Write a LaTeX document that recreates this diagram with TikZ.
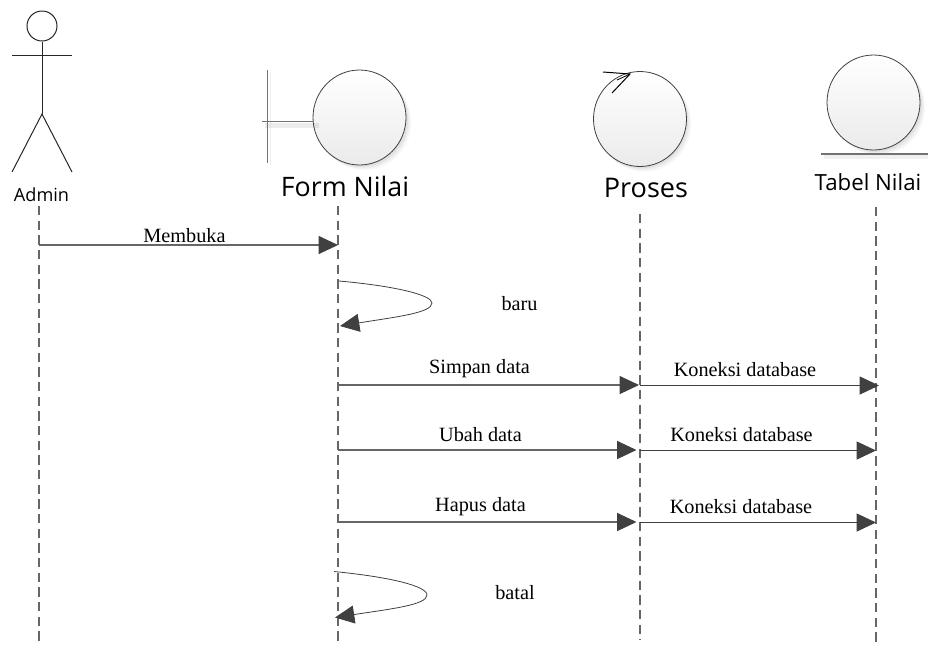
\documentclass[tikz,border=0pt]{standalone}
\usepackage{fontspec}
\setmainfont{Liberation Serif}
\newfontfamily\uisans{Open Sans}
\usetikzlibrary{arrows.meta,shapes.geometric}
\definecolor{tipc}{HTML}{404040}
\definecolor{linec}{HTML}{666666}
\tikzset{
  lifeline/.style={draw=linec,line width=0.9pt,dash pattern=on 6.9pt off 4.1pt},
  msg/.style={draw=linec,line width=0.85pt,-{Triangle[length=14.5pt,width=13.5pt,color=tipc]}},
  loopmsg/.style={draw=tipc,line width=0.6pt,-{Triangle[length=14.5pt,width=13.5pt,color=tipc]}},
  lbl/.style={inner sep=0pt,font=\fontsize{15.2}{18}\selectfont},
  robust/.style={ellipse,draw=black!75,line width=0.6pt,top color=white,bottom color=black!8,
    minimum width=69.75pt,minimum height=71.25pt,inner sep=0pt},
  stick/.style={draw=black!85,line width=0.75pt},
  bar/.style={draw=black!55,line width=0.75pt},
  capt/.style={inner sep=0pt,font=\uisans\fontsize{#1}{#1}\selectfont},
}
\begin{document}
\begin{tikzpicture}[x=0.75pt,y=-0.75pt]
\useasboundingbox (0,0) rectangle (928,644);
% lifeline ends
\coordinate (a0) at (39,206); \coordinate (a1) at (39,644);
\coordinate (f0) at (338,206); \coordinate (f1) at (338,644);
\coordinate (p0) at (640,214); \coordinate (p1) at (640,640);
\coordinate (t0) at (876,207); \coordinate (t1) at (876,644);
\draw[lifeline] (a0) -- (a1);
\draw[lifeline] (f0) -- (f1);
\draw[lifeline] (p0) -- (p1);
\draw[lifeline] (t0) -- (t1);
% actor
\node[circle,draw=black!85,line width=0.75pt,minimum size=22.5pt,inner sep=0pt] (head) at (42,26) {};
\coordinate (hip) at (42,114);
\coordinate (armL) at (12,55); \coordinate (armR) at (72,55);
\coordinate (legL) at (12,172); \coordinate (legR) at (72,172);
\draw[stick] (head.south) -- (hip);
\draw[stick] (armL) -- (armR);
\draw[stick] (legL) -- (hip) -- (legR);
\node[capt=13.6] (admin) at (41.5,195) {Admin};
% soft shadows
\foreach \d/\o in {5/0.03,3.5/0.04,2/0.05}{
  \fill[black,opacity=\o] (359.5+\d,117.5+\d) ellipse [x radius=34.9pt,y radius=35.6pt];
  \fill[black,opacity=\o] (639.5+\d,119+\d) ellipse [x radius=34.9pt,y radius=35.6pt];
  \fill[black,opacity=\o] (873.5+\d,102.5+\d) ellipse [x radius=34.9pt,y radius=35.6pt];
}
% boundary
\node[robust] (form) at (359.5,117.5) {};
\coordinate (barT) at (267,70); \coordinate (barB) at (267,163); \coordinate (stub) at (262,121);
\fill[black,opacity=0.07] (269.5,72) rectangle (271,165);
\fill[black,opacity=0.07] (265,123) rectangle (319,127.5);
\draw[bar] (barT) -- (barB);
\draw[bar] (stub) -- (stub -| form.west);
\node[capt=20.1] (formL) at (345,186.5) {Form Nilai};
% control
\node[robust] (proses) at (640,119) {};
\coordinate (ctip) at (630,74); \coordinate (ca) at (603,72); \coordinate (cb) at (612,93); \coordinate (cc) at (617,80);
\draw[draw=black,line width=0.75pt] (ca) -- (ctip) -- (cb);
\draw[draw=black,line width=0.6pt] (ctip) -- (cc);
\node[capt=20.3] (prosesL) at (646,188) {Proses};
% entity
\node[robust] (tabel) at (873.5,102.5) {};
\coordinate (eL) at (821,154); \coordinate (eR) at (928,154);
\fill[black,opacity=0.06] (824,155) rectangle (928,159);
\draw[draw=black!55,line width=1pt] (eL) -- (eR);
\node[capt=16.7] (tabelL) at (868,182) {Tabel Nilai};
% messages
\coordinate (m1a) at (39,245); \coordinate (m1b) at (338,245);
\draw[msg] (m1a) -- (m1b);
\node[lbl] (m1) at (184.5,235.5) {Membuka};
\coordinate (s1a) at (339,281); \coordinate (s1m) at (432,303); \coordinate (s1b) at (340,326);
\draw[loopmsg] (s1a) .. controls (395,286) and (432,295) .. (s1m) .. controls (432,313) and (395,317) .. (s1b);
\node[lbl] (baru) at (519.5,304) {baru};
\coordinate (m2a) at (338,385); \coordinate (m2b) at (639,385);
\draw[msg] (m2a) -- (m2b);
\node[lbl] (m2) at (479.5,369) {Simpan data};
\coordinate (k1a) at (640,385.5); \coordinate (k1b) at (879,385.5);
\draw[msg,draw=tipc] (k1a) -- (k1b);
\node[lbl] (k1) at (745,369.5) {Koneksi database};
\coordinate (m3a) at (338,450); \coordinate (m3b) at (636.5,450);
\draw[msg] (m3a) -- (m3b);
\node[lbl] (m3) at (480.5,435) {Ubah data};
\coordinate (k2a) at (640,450.5); \coordinate (k2b) at (876,450.5);
\draw[msg,draw=tipc] (k2a) -- (k2b);
\node[lbl] (k2) at (741.5,435) {Koneksi database};
\coordinate (m4a) at (338,522); \coordinate (m4b) at (636.5,522);
\draw[msg] (m4a) -- (m4b);
\node[lbl] (m4) at (480.5,507) {Hapus data};
\coordinate (k3a) at (640,522.5); \coordinate (k3b) at (876,522.5);
\draw[msg,draw=tipc] (k3a) -- (k3b);
\node[lbl] (k3) at (741,507) {Koneksi database};
\coordinate (s2a) at (334,571.5); \coordinate (s2m) at (427,595); \coordinate (s2b) at (335,617.5);
\draw[loopmsg] (s2a) .. controls (390,577) and (427,586) .. (s2m) .. controls (427,605) and (390,609) .. (s2b);
\node[lbl] (batal) at (515,593) {batal};
\end{tikzpicture}
\end{document}
